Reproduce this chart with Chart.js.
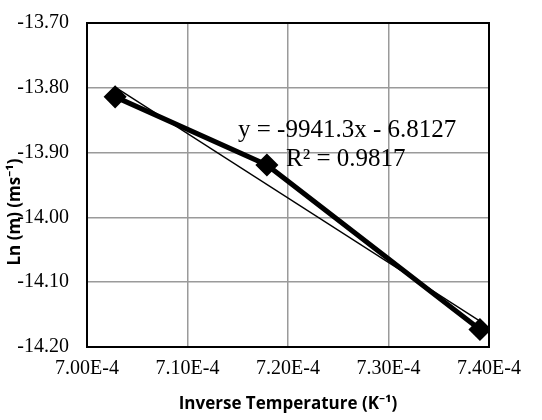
<!DOCTYPE html>
<html>
<head>
<meta charset="utf-8">
<script src="https://cdn.jsdelivr.net/npm/chart.js@4/dist/chart.umd.min.js"></script>
<style>
  html, body { margin: 0; padding: 0; background: #fff; }
  .chart-wrapper { width: 542px; height: 420px; }
</style>
</head>
<body>
<div class="chart-wrapper"><canvas id="chart" width="542" height="420"></canvas></div>
<script>
// values
const inverseTemp = [7.028e-4, 7.179e-4, 7.391e-4];
const lnM = [-13.814, -13.919, -14.173];
// linear trendline ends, as drawn
const trendX = [7.028e-4, 7.391e-4];
const trendY = [-13.799, -14.160];
const equationText = 'y = -9941.3x - 6.8127';
const rSquaredText = 'R\u00B2 = 0.9817';
const xTitle = 'Inverse Temperature (K\u207B\u00B9)';
const yTitle = 'Ln (m) (ms\u207B\u00B9)';

const serif = '"Liberation Serif", "Times New Roman", serif';
const sans = '"Open Sans", "Noto Sans", sans-serif';

const frameAndText = {
  id: 'frameAndText',
  afterDraw(chart) {
    const { ctx, chartArea: a } = chart;
    ctx.save();
    ctx.strokeStyle = '#000';
    ctx.lineWidth = 2;
    ctx.strokeRect(a.left, a.top, a.right - a.left, a.bottom - a.top);

    ctx.fillStyle = '#000';
    ctx.font = '25px ' + serif;
    ctx.textBaseline = 'alphabetic';
    ctx.textAlign = 'left';
    ctx.fillText(equationText, 238, 137);
    ctx.fillText(rSquaredText, 286, 166);

    ctx.font = 'bold 17px ' + sans;
    ctx.textAlign = 'center';
    ctx.textBaseline = 'middle';
    ctx.fillText(xTitle, (a.left + a.right) / 2, 404);

    ctx.translate(15, 212);
    ctx.rotate(-Math.PI / 2);
    ctx.fillText(yTitle, 0, 0);
    ctx.restore();
  }
};

new Chart(document.getElementById('chart').getContext('2d'), {
  type: 'scatter',
  data: {
    datasets: [{
      label: 'Ln (m)',
      data: inverseTemp.map((x, i) => ({ x, y: lnM[i] })),
      showLine: true,
      borderColor: '#000',
      backgroundColor: '#000',
      borderWidth: 5,
      pointStyle: 'rectRot',
      pointRadius: 8,
      pointHoverRadius: 8
    }, {
      label: 'Linear',
      data: trendX.map((x, i) => ({ x, y: trendY[i] })),
      showLine: true,
      borderColor: '#000',
      borderWidth: 1.3,
      pointRadius: 0
    }]
  },
  options: {
    responsive: false,
    animation: false,
    layout: { padding: { left: 0, top: 23, right: 53, bottom: 0 } },
    plugins: { legend: { display: false }, tooltip: { enabled: false } },
    scales: {
      x: {
        type: 'linear',
        min: 7.0e-4,
        max: 7.4e-4,
        afterFit(scale) {
          scale.height = 73;
          scale.paddingLeft = 0;
          scale.paddingRight = 0;
        },
        ticks: {
          stepSize: 1e-5,
          padding: 10,
          color: '#000',
          font: { family: serif, size: 20 },
          callback: v => (Math.round(v * 1e6) / 100).toFixed(2) + 'E-4'
        },
        grid: { color: '#9a9a9a', lineWidth: 1.5, drawTicks: false },
        border: { display: false }
      },
      y: {
        min: -14.2,
        max: -13.7,
        afterFit(scale) {
          scale.width = 87;
          scale.paddingTop = 0;
          scale.paddingBottom = 0;
        },
        ticks: {
          stepSize: 0.1,
          padding: 18,
          color: '#000',
          font: { family: serif, size: 20 },
          callback: v => v.toFixed(2)
        },
        grid: { color: '#9a9a9a', lineWidth: 1.5, drawTicks: false },
        border: { display: false }
      }
    }
  },
  plugins: [frameAndText]
});
</script>
</body>
</html>
